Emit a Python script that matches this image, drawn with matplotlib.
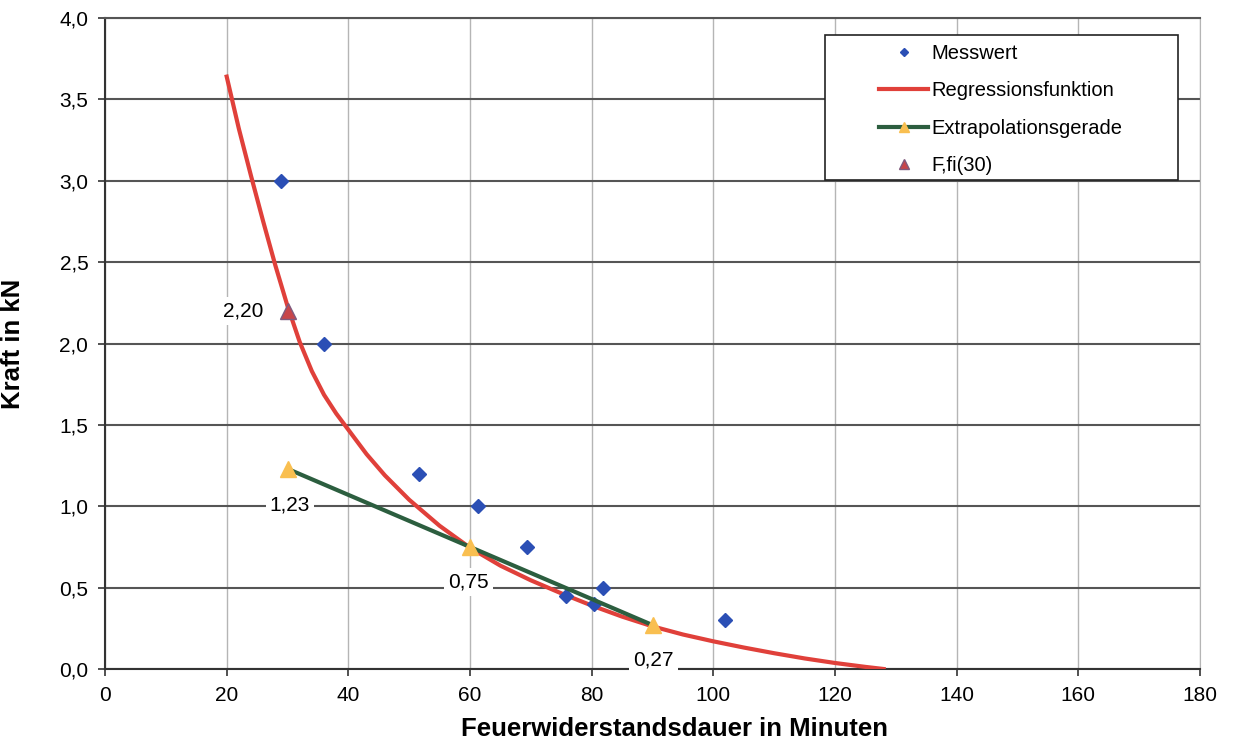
import matplotlib.pyplot as plt
from matplotlib.patches import Rectangle
from matplotlib.ticker import FuncFormatter

plt.rcParams['font.family'] = ['Liberation Sans', 'DejaVu Sans']

# Messwerte (Minuten, kN)
mess_t = [29, 36, 51.6, 61.3, 69.4, 75.8, 80.4, 81.9, 101.9]
mess_f = [3.0, 2.0, 1.2, 1.0, 0.75, 0.45, 0.40, 0.50, 0.30]

# Regressionsfunktion
reg_t = [20, 22, 24, 26, 28, 30, 32, 34, 36, 38, 40, 43, 46, 50, 55, 60, 65,
         70, 75, 80, 85, 90, 95, 100, 105, 110, 115, 120, 125, 128]
reg_f = [3.64, 3.32, 3.03, 2.75, 2.48, 2.23, 2.01, 1.83, 1.685, 1.57, 1.47,
         1.32, 1.19, 1.04, 0.88, 0.745, 0.635, 0.545, 0.465, 0.39, 0.322,
         0.262, 0.212, 0.17, 0.132, 0.097, 0.065, 0.037, 0.013, 0.0]

# Extrapolationsgerade
ext_t = [30, 60, 90]
ext_f = [1.23, 0.75, 0.27]

# F,fi(30)
ffi_t = [30]
ffi_f = [2.20]

fig = plt.figure(figsize=(12.37, 7.45), dpi=100)
ax = fig.add_axes([0.0849, 0.102, 0.8852, 0.8738])

ax.set_xlim(0, 180)
ax.set_ylim(0, 4.0)
ax.set_xticks(range(0, 181, 20))
ax.set_yticks([i * 0.5 for i in range(9)])
ax.yaxis.set_major_formatter(FuncFormatter(lambda v, p: f"{v:.1f}".replace('.', ',')))

# Gitter: waagerecht dunkel, senkrecht hell
ax.yaxis.grid(True, color='#555555', linewidth=1.5)
ax.xaxis.grid(True, color='#b5b5b5', linewidth=1.0)
ax.set_axisbelow(True)
for s in ['left', 'bottom']:
    ax.spines[s].set_color('#333333')
    ax.spines[s].set_linewidth(1.5)
ax.spines['top'].set_color('#555555')
ax.spines['top'].set_linewidth(1.5)
ax.spines['right'].set_color('#b5b5b5')
ax.tick_params(axis='both', labelsize=15, length=5, width=1.2, color='#333333', pad=7)

ax.plot(mess_t, mess_f, linestyle='none', marker='D', markersize=7,
        color='#2B4FB5', label='Messwert', zorder=4)
ax.plot(reg_t, reg_f, color='#E0403A', linewidth=3, label='Regressionsfunktion',
        solid_joinstyle='round', zorder=3)
ax.plot(ext_t, ext_f, color='#2C5E3F', linewidth=3, marker='^', markersize=12,
        markerfacecolor='#F9BF50', markeredgecolor='#F9BF50',
        label='Extrapolationsgerade', zorder=5)
ax.plot(ffi_t, ffi_f, linestyle='none', marker='^', markersize=12,
        markerfacecolor='#C8454A', markeredgecolor='#7F5A7E',
        label='F,fi(30)', zorder=5)

# Wertebeschriftungen
box = dict(facecolor='white', edgecolor='none', pad=3)
ax.text(22.7, 2.2, '2,20', fontsize=15, ha='center', va='center', bbox=box, zorder=6)
ax.text(30.4, 1.01, '1,23', fontsize=15, ha='center', va='center', bbox=box, zorder=6)
ax.text(59.8, 0.535, '0,75', fontsize=15, ha='center', va='center', bbox=box, zorder=6)
ax.text(90.2, 0.055, '0,27', fontsize=15, ha='center', va='center', bbox=box, zorder=6)

ax.set_xlabel('Feuerwiderstandsdauer in Minuten', fontsize=18.5, fontweight='bold')
ax.xaxis.set_label_coords(0.52, -0.073)
ax.set_ylabel('Kraft in kN', fontsize=18.5, fontweight='bold')
ax.yaxis.set_label_coords(-0.073, 0.5)

# Legendenrahmen
ax.add_patch(Rectangle((0.6575, 0.751), 0.3225, 0.223, transform=ax.transAxes,
                       facecolor='white', edgecolor='#222222', linewidth=1.2, zorder=7))
leg = ax.legend(loc='upper left', bbox_to_anchor=(0.698, 0.976), frameon=False,
                fontsize=14.5, borderpad=0, handlelength=2.4, handletextpad=0.2,
                labelspacing=0.92, markerscale=0.55)
leg.set_zorder(8)

fig.savefig('out.png', dpi=100)
